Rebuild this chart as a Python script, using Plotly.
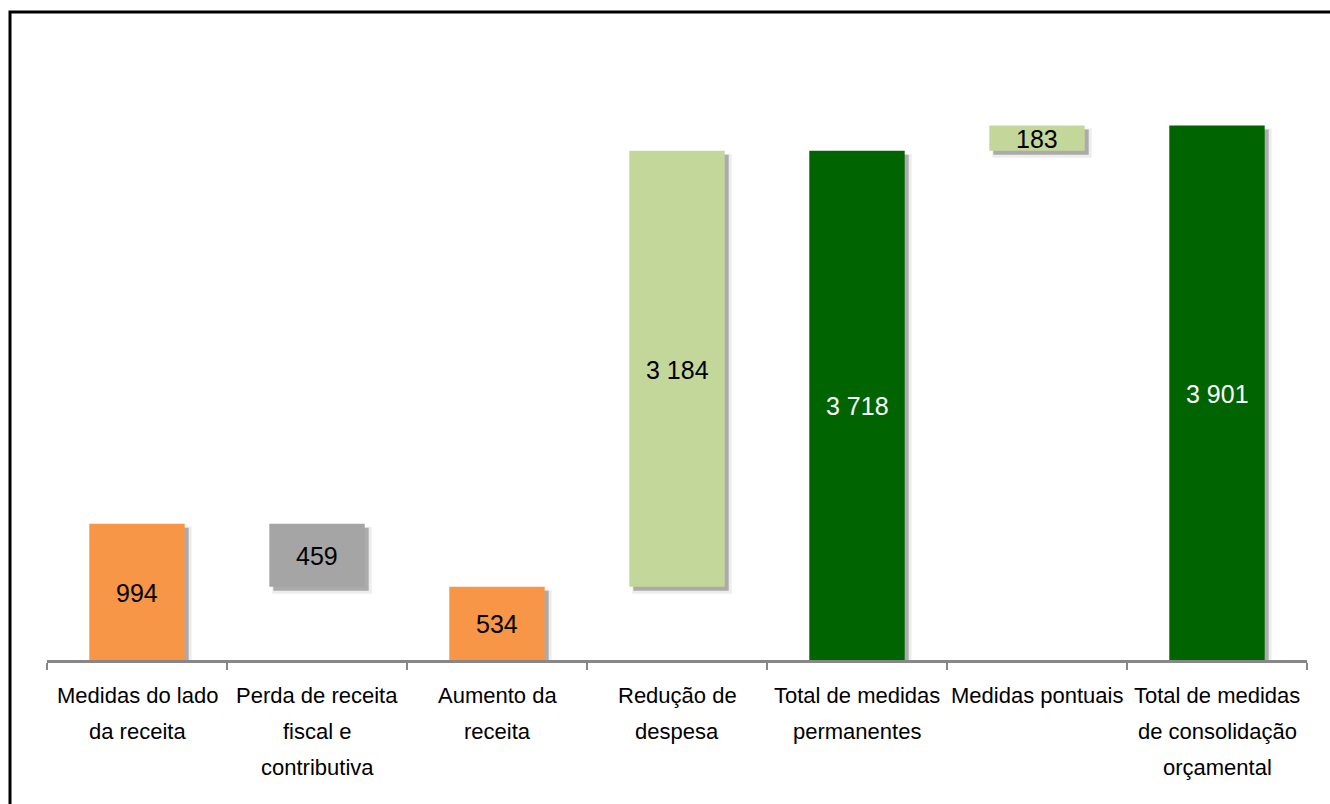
import plotly.graph_objects as go

# Fiscal consolidation measures (million euros), floating-bar waterfall
categories = [
    "Medidas do lado da receita",
    "Perda de receita fiscal e contributiva",
    "Aumento da receita",
    "Redução de despesa",
    "Total de medidas permanentes",
    "Medidas pontuais",
    "Total de medidas de consolidação orçamental",
]
category_lines = [
    ["Medidas do lado", "da receita"],
    ["Perda de receita", "fiscal e", "contributiva"],
    ["Aumento da", "receita"],
    ["Redução de", "despesa"],
    ["Total de medidas", "permanentes"],
    ["Medidas pontuais"],
    ["Total de medidas", "de consolidação", "orçamental"],
]
values = [994, 459, 534, 3184, 3718, 183, 3901]
bases = [0, 535, 0, 534, 0, 3718, 0]
bar_colors = ["#F79646", "#A5A5A5", "#F79646", "#C4D79B", "#006400", "#C4D79B", "#006400"]
text_colors = ["black", "black", "black", "black", "white", "black", "white"]

W, H = 1330, 804
M_L, M_R, M_T, M_B = 47, 23, 60, 144
Y_MAX = 4380
BAR_W = 0.53
FONT = "Liberation Sans, Arial, sans-serif"
LABEL_TOP, LABEL_STEP = 35, 36   # pixels below the axis for category label lines

plot_w = W - M_L - M_R
plot_h = H - M_T - M_B
px_x = len(categories) / plot_w      # category units per pixel
px_y = Y_MAX / plot_h                # data units per pixel

fig = go.Figure()

# soft drop shadows: a faint halo and a darker core, shifted right and down
for shift, grow, color in [(5, 2, "rgba(0,0,0,0.07)"), (4, 0, "rgba(0,0,0,0.28)")]:
    fig.add_trace(go.Bar(
        x=categories,
        y=[v + 2 * grow * px_y for v in values],
        base=[b - (shift + grow) * px_y for b in bases],
        width=BAR_W + 2 * grow * px_x,
        offset=-BAR_W / 2 + (shift - grow) * px_x,
        marker=dict(color=color, line=dict(width=0)),
        hoverinfo="skip",
        showlegend=False,
    ))

fig.add_trace(go.Bar(
    x=categories,
    y=values,
    base=bases,
    width=BAR_W,
    offset=-BAR_W / 2,
    marker=dict(color=bar_colors, line=dict(width=0)),
    showlegend=False,
))

# value labels centred in each bar
for cat, v, b, tc in zip(categories, values, bases, text_colors):
    fig.add_annotation(
        x=cat, y=b + v / 2,
        text=f"{v:,}".replace(",", " "),
        showarrow=False,
        font=dict(family=FONT, size=25, color=tc),
        yshift=-1,
    )

# category labels, one line at a time for wider line spacing
for cat, lines in zip(categories, category_lines):
    for i, line in enumerate(lines):
        fig.add_annotation(
            x=cat, xref="x", y=0, yref="paper",
            yanchor="middle",
            yshift=-(LABEL_TOP + LABEL_STEP * i),
            text=line,
            showarrow=False,
            font=dict(family=FONT, size=22, color="black"),
        )

# outer frame of the chart
fig.add_shape(
    type="rect", xref="paper", yref="paper",
    x0=(10 - M_L) / plot_w, x1=1.2,
    y0=-0.5, y1=(H - M_B - 12) / plot_h,
    line=dict(color="black", width=3),
    fillcolor="rgba(0,0,0,0)",
)

fig.update_layout(
    width=W, height=H,
    margin=dict(l=M_L, r=M_R, t=M_T, b=M_B, autoexpand=False),
    paper_bgcolor="white",
    plot_bgcolor="white",
    barmode="overlay",
    xaxis=dict(
        type="category",
        range=[-0.5, len(categories) - 0.5],
        automargin=False,
        showticklabels=False,
        showline=True, linecolor="#878787", linewidth=3,
        ticks="outside", tickson="boundaries", ticklen=7, tickwidth=2, tickcolor="#878787",
        showgrid=False, zeroline=False,
    ),
    yaxis=dict(
        range=[0, Y_MAX],
        visible=False,
        automargin=False,
        showgrid=False, zeroline=False,
    ),
)

fig.write_html("out.html")
